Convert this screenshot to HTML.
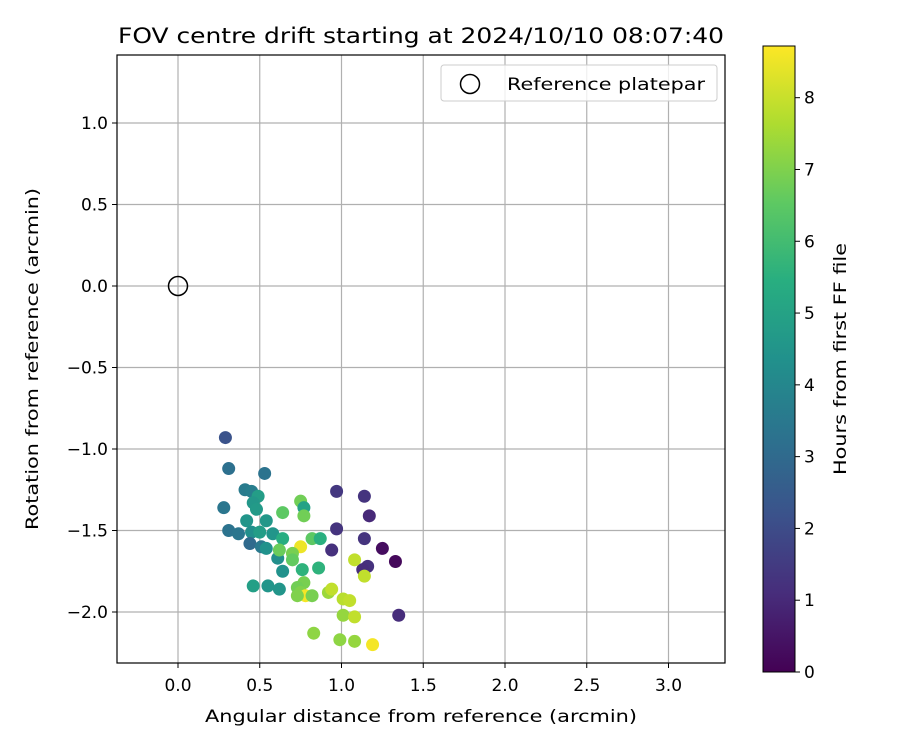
<!DOCTYPE html>
<html><head><meta charset="utf-8">
<style>
body{margin:0;background:#fff;font-family:"DejaVu Sans","Liberation Sans",sans-serif;}
svg text{font-family:"DejaVu Sans","Liberation Sans",sans-serif;}
</style></head>
<body>
<svg id="chart" width="900" height="750" xmlns="http://www.w3.org/2000/svg">
<text x="421" y="43" font-size="21" text-anchor="middle" textLength="606" lengthAdjust="spacingAndGlyphs">FOV centre drift starting at 2024/10/10 08:07:40</text>
<g id="grid"></g>
<g id="xticks"></g>
<g id="yticks"></g>
<g id="points"></g>
<circle cx="178" cy="286" r="9.5" fill="none" stroke="#000" stroke-width="1.5"/>
<rect x="117" y="55" width="608" height="608" fill="none" stroke="#000" stroke-width="1.2"/>
<g>
<rect x="441" y="65" width="276" height="36" rx="3" fill="#fff" fill-opacity="0.8" stroke="#ccc"/>
<circle cx="470" cy="84" r="9.5" fill="none" stroke="#000" stroke-width="1.5"/>
<text x="507" y="90" font-size="17" textLength="198" lengthAdjust="spacingAndGlyphs">Reference platepar</text>
</g>
<text x="421" y="722" font-size="17" text-anchor="middle" textLength="432" lengthAdjust="spacingAndGlyphs">Angular distance from reference (arcmin)</text>
<text transform="translate(38,359) rotate(-90)" font-size="17" text-anchor="middle" textLength="342" lengthAdjust="spacingAndGlyphs">Rotation from reference (arcmin)</text>
<defs><linearGradient id="vir" x1="0" y1="1" x2="0" y2="0">
<stop offset="0" stop-color="#440154"/><stop offset="0.125" stop-color="#472d7b"/><stop offset="0.25" stop-color="#3b528b"/><stop offset="0.375" stop-color="#2c728e"/><stop offset="0.5" stop-color="#21918c"/><stop offset="0.625" stop-color="#28ae80"/><stop offset="0.75" stop-color="#5ec962"/><stop offset="0.875" stop-color="#addc30"/><stop offset="1" stop-color="#fde725"/></linearGradient></defs>
<rect x="763" y="46" width="32" height="626" fill="url(#vir)" stroke="#000" stroke-width="1"/>
<g id="cticks"></g>
<text transform="translate(846,359) rotate(-90)" font-size="17" text-anchor="middle" textLength="232" lengthAdjust="spacingAndGlyphs">Hours from first FF file</text>
</svg>
<script>
const xVals=[0.29,0.31,0.53,0.41,0.45,0.49,0.28,0.46,0.48,0.42,0.54,0.31,0.37,0.45,0.50,0.58,0.64,0.44,0.51,0.54,0.61,0.64,0.46,0.55,0.62,0.75,0.75,0.77,0.77,0.64,0.82,0.87,0.62,0.70,0.70,0.76,0.86,0.77,0.73,0.75,0.78,0.82,0.73,0.92,0.94,1.01,1.05,1.01,1.08,0.83,0.99,1.08,1.19,0.97,1.14,1.17,0.97,1.14,0.94,1.25,1.33,1.16,1.13,1.08,1.14,1.35];
const yVals=[-0.93,-1.12,-1.15,-1.25,-1.26,-1.29,-1.36,-1.33,-1.37,-1.44,-1.44,-1.50,-1.52,-1.51,-1.51,-1.52,-1.55,-1.58,-1.60,-1.61,-1.67,-1.75,-1.84,-1.84,-1.86,-1.60,-1.32,-1.36,-1.41,-1.39,-1.55,-1.55,-1.62,-1.64,-1.68,-1.74,-1.73,-1.82,-1.85,-1.88,-1.90,-1.90,-1.90,-1.88,-1.86,-1.92,-1.93,-2.02,-2.03,-2.13,-2.17,-2.18,-2.20,-1.26,-1.29,-1.41,-1.49,-1.55,-1.62,-1.61,-1.69,-1.72,-1.74,-1.68,-1.78,-2.02];
const hours=[2.2,3.2,3.3,3.6,3.7,4.8,3.4,4.6,4.7,4.5,4.6,3.3,3.4,4.3,4.8,4.5,5.4,3.0,3.5,4.4,4.3,4.4,4.9,4.5,4.5,8.5,6.8,5.0,6.8,6.5,6.5,5.5,6.7,6.9,6.6,5.6,5.6,6.9,6.8,7.0,8.6,6.9,7.0,7.4,7.9,7.8,7.9,7.3,7.9,7.2,7.2,7.3,8.6,1.4,1.3,1.0,1.3,1.3,1.2,0.3,0.2,1.2,1.1,7.9,7.9,1.1];
const xTicks=[0.0,0.5,1.0,1.5,2.0,2.5,3.0];
const yTicks=[-2.0,-1.5,-1.0,-0.5,0.0,0.5,1.0];
const cTicks=[0,1,2,3,4,5,6,7,8];
const NS="http://www.w3.org/2000/svg";
function sx(v){return 178+v*163.5;}
function sy(v){return 286-v*163;}
function cy(v){return 672-v*(626/8.72);}
const stops=[[68,1,84],[71,45,123],[59,82,139],[44,114,142],[33,145,140],[40,174,128],[94,201,98],[173,220,48],[253,231,37]];
function vir(h){let t=Math.max(0,Math.min(1,h/8.72))*8;let i=Math.min(7,Math.floor(t));let f=t-i;let a=stops[i],b=stops[i+1];return `rgb(${a.map((c,k)=>Math.round(c+(b[k]-c)*f)).join(',')})`;}
function mk(tag,attrs,parent){const e=document.createElementNS(NS,tag);for(const k in attrs)e.setAttribute(k,attrs[k]);parent.appendChild(e);return e;}
const grid=document.getElementById('grid'),xg=document.getElementById('xticks'),yg=document.getElementById('yticks'),pg=document.getElementById('points'),cg=document.getElementById('cticks');
xTicks.forEach(v=>{const x=sx(v);
const l=mk('line',{x1:x,x2:x,y1:55,y2:663,stroke:'#b0b0b0','stroke-width':1.2},grid);


mk('line',{x1:x,x2:x,y1:663,y2:668,stroke:'#000'},xg);
const t=mk('text',{x:x,y:691,'font-size':17,'text-anchor':'middle'},xg);t.textContent=v.toFixed(1);

});
yTicks.forEach(v=>{const y=sy(v);
const l=mk('line',{x1:117,x2:725,y1:y,y2:y,stroke:'#b0b0b0','stroke-width':1.2},grid);


mk('line',{x1:112,x2:117,y1:y,y2:y,stroke:'#000'},yg);
const t=mk('text',{x:108,y:y+6,'font-size':17,'text-anchor':'end'},yg);t.textContent=(v<0?'\u2212':'')+Math.abs(v).toFixed(1);

});
xVals.forEach((v,i)=>{const c=mk('circle',{cx:sx(v),cy:sy(yVals[i]),r:6.5,fill:vir(hours[i])},pg);

});
cTicks.forEach(v=>{const y=cy(v);mk('line',{x1:795,x2:800,y1:y,y2:y,stroke:'#000'},cg);
const t=mk('text',{x:804,y:y+6,'font-size':17},cg);t.textContent=v;

});
</script>
</body></html>
